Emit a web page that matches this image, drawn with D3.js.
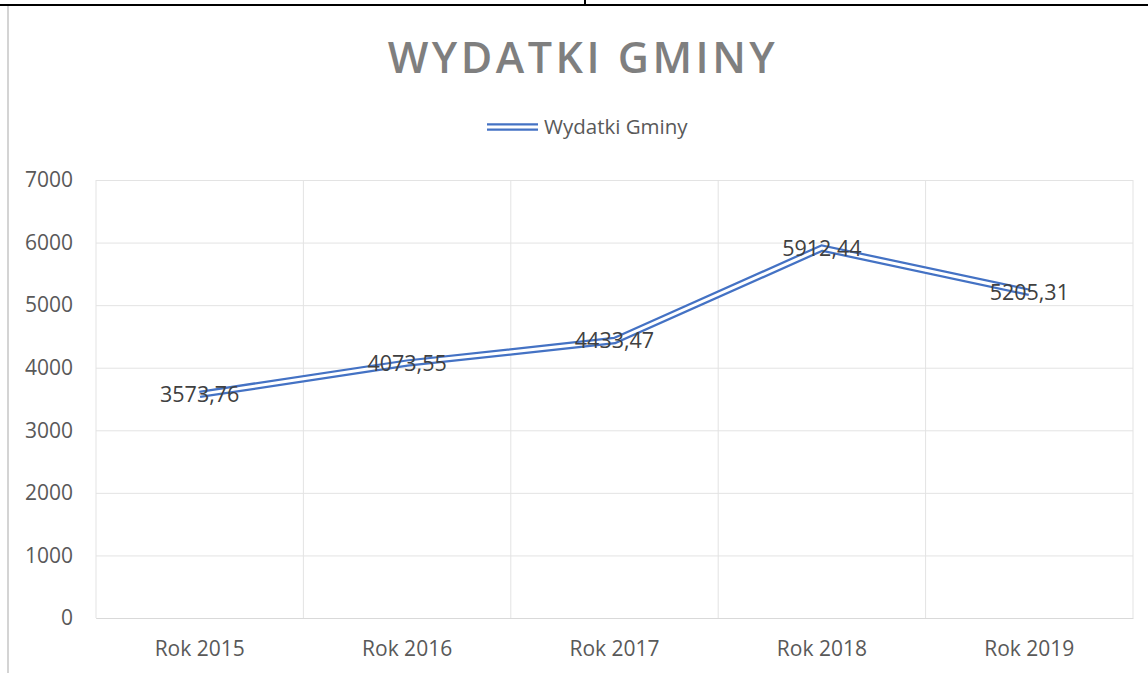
<!DOCTYPE html>
<html>
<head>
<meta charset="utf-8">
<script src="https://cdn.jsdelivr.net/npm/d3@7"></script>
<style>
  body { margin: 0; background: #fff; }
  svg { display: block; font-family: "Open Sans", sans-serif; }
  .grid line { stroke: #e3e3e3; stroke-width: 1; }
  .grid path { display: none; }
</style>
</head>
<body>
<svg id="chart" width="1148" height="673" viewBox="0 0 1148 673"></svg>
<script>
let years = ["Rok 2015", "Rok 2016", "Rok 2017", "Rok 2018", "Rok 2019"];
let spending = [3573.76, 4073.55, 4433.47, 5912.44, 5205.31];
let yTicks = [0, 1000, 2000, 3000, 4000, 5000, 6000, 7000];
let seriesName = "Wydatki Gminy";
let chartTitle = "WYDATKI GMINY";

function makeLine(id){
    let svg = d3.select("#" + id);
    let margins = {top: 180, right: 15, bottom: 55, left: 96};
    let totalWidth = 1148, totalHeight = 673;
    let innerWidth = totalWidth - margins.left - margins.right;
    let innerHeight = totalHeight - margins.top - margins.bottom;

    // page decoration (table border above, margin line at left)
    svg.append("line").attr("x1", 0).attr("x2", totalWidth).attr("y1", 5).attr("y2", 5)
        .attr("stroke", "#000").attr("stroke-width", 2);
    svg.append("line").attr("x1", 585).attr("x2", 585).attr("y1", 0).attr("y2", 5)
        .attr("stroke", "#000").attr("stroke-width", 2);
    svg.append("line").attr("x1", 8).attr("x2", 8).attr("y1", 6).attr("y2", totalHeight)
        .attr("stroke", "#d4d4d4").attr("stroke-width", 2);

    let x = d3.scaleBand(years, [0, innerWidth]);
    let y = d3.scaleLinear([0, 7000], [innerHeight, 0]);

    let chart = svg.append("g")
        .attr("transform", `translate(${margins.left},${margins.top})`);

    // horizontal grid
    chart.append("g").attr("class", "grid")
        .call(d3.axisLeft(y).tickValues(yTicks).tickFormat("").tickSize(-innerWidth));

    // vertical grid at band edges
    let edges = years.map(d => x(d)).concat([innerWidth]);
    chart.append("g").selectAll("line").data(edges).enter().append("line")
        .attr("x1", d => d).attr("x2", d => d)
        .attr("y1", 0).attr("y2", innerHeight)
        .attr("stroke", "#e3e3e3");

    // y axis labels
    let yAxis = chart.append("g")
        .call(d3.axisLeft(y).tickValues(yTicks).tickFormat(d3.format("d")).tickSize(0).tickPadding(23));
    yAxis.select(".domain").remove();
    yAxis.selectAll("text").attr("font-size", 21).attr("fill", "#595959")
        .attr("font-family", "Open Sans");

    // x axis
    let xAxis = chart.append("g")
        .attr("transform", `translate(0,${innerHeight})`)
        .call(d3.axisBottom(x).tickSize(0).tickPadding(23));
    xAxis.select(".domain").attr("stroke", "#d9d9d9");
    xAxis.selectAll("text").attr("font-size", 21).attr("fill", "#595959")
        .attr("font-family", "Open Sans");

    // double line
    let line = d3.line()
        .x((d, i) => x(years[i]) + x.bandwidth() / 2)
        .y(d => y(d));
    chart.append("path").datum(spending)
        .attr("d", line).attr("fill", "none")
        .attr("stroke", "#4472c4").attr("stroke-width", 7.5);
    chart.append("path").datum(spending)
        .attr("d", line).attr("fill", "none")
        .attr("stroke", "#fff").attr("stroke-width", 3);

    // data labels
    chart.append("g").selectAll("text").data(spending).enter().append("text")
        .attr("x", (d, i) => x(years[i]) + x.bandwidth() / 2)
        .attr("y", d => y(d))
        .attr("dy", "0.35em")
        .attr("text-anchor", "middle")
        .attr("font-size", 21.5)
        .attr("fill", "#404040")
        .text(d => d3.format(".2f")(d).replace(".", ","));

    // title
    svg.append("text")
        .attr("x", 583).attr("y", 73)
        .attr("text-anchor", "middle")
        .attr("font-size", 43).attr("font-weight", 600)
        .attr("letter-spacing", 3.5)
        .attr("fill", "#7f7f7f")
        .text(chartTitle);

    // legend
    let legend = svg.append("g").attr("transform", "translate(487,127)");
    legend.append("line").attr("x1", 0).attr("x2", 51).attr("y1", 0).attr("y2", 0)
        .attr("stroke", "#4472c4").attr("stroke-width", 7.5);
    legend.append("line").attr("x1", 0).attr("x2", 51).attr("y1", 0).attr("y2", 0)
        .attr("stroke", "#fff").attr("stroke-width", 3);
    legend.append("text").attr("x", 57).attr("y", 0).attr("dy", "0.35em")
        .attr("font-size", 20.5).attr("fill", "#595959")
        .text(seriesName);
}

makeLine("chart");
</script>
</body>
</html>
